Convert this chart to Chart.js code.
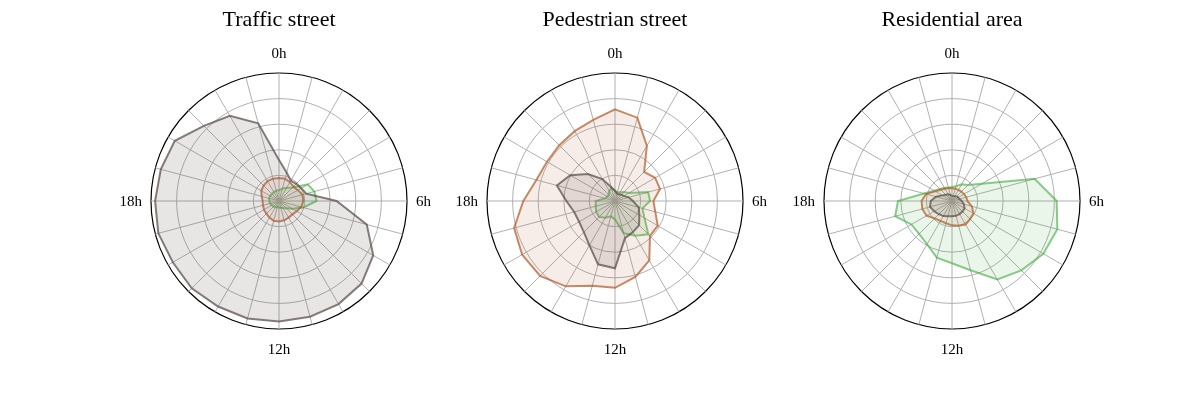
<!DOCTYPE html>
<html>
<head>
<meta charset="utf-8">
<script src="https://cdn.jsdelivr.net/npm/chart.js@4/dist/chart.umd.min.js"></script>
<style>
body{margin:0;background:#fff;}
#wrap{position:relative;width:1200px;height:400px;}
.box{position:absolute;top:0;width:340px;height:400px;}
</style>
</head>
<body>
<div id="wrap">
    <div class="box" style="left:109px"><canvas id="traffic" width="340" height="400"></canvas></div>
    <div class="box" style="left:445px"><canvas id="pedestrian" width="340" height="400"></canvas></div>
    <div class="box" style="left:782px"><canvas id="residential" width="340" height="400"></canvas></div>
</div>
<script>
var hours = ["0h","1h","2h","3h","4h","5h","6h","7h","8h","9h","10h","11h",
             "12h","13h","14h","15h","16h","17h","18h","19h","20h","21h","22h","23h"];
var shownHours = ["0h", "6h", "12h", "18h"];
var rTicks = [0, 1, 2, 3, 4, 5];
var titles = ["Traffic street", "Pedestrian street", "Residential area"];

// values per hour, 0h..23h
var trafficGray   = [1.6, 1.15, 0.92, 0.95, 1.0, 1.1, 2.25, 3.55, 4.25, 4.56, 4.65, 4.68,
                     4.71, 4.75, 4.76, 4.82, 4.79, 4.88, 4.84, 4.78, 4.70, 4.15, 3.84, 3.14];
var trafficOrange = [0.9, 0.9, 0.85, 0.8, 0.85, 0.95, 0.95, 0.9, 0.8, 0.74, 0.75, 0.78,
                     0.8, 0.8, 0.75, 0.7, 0.68, 0.65, 0.64, 0.7, 0.8, 0.85, 0.9, 0.9];
var trafficGreen  = [0.42, 0.5, 0.6, 0.75, 1.3, 1.43, 1.47, 0.98, 0.6, 0.4, 0.32, 0.28,
                     0.25, 0.25, 0.28, 0.31, 0.33, 0.36, 0.38, 0.4, 0.4, 0.39, 0.4, 0.42];

var pedestrianGray   = [0.4, 0.3, 0.3, 0.35, 0.4, 0.55, 0.7, 0.96, 1.1, 1.33, 1.4, 1.5,
                        2.63, 2.56, 2.0, 1.72, 1.62, 1.65, 1.9, 2.35, 2.02, 1.49, 0.99, 0.56];
var pedestrianOrange = [3.58, 3.37, 2.49, 1.61, 1.81, 1.82, 1.5, 1.63, 1.93, 1.93, 2.68, 3.07,
                        3.39, 3.43, 3.85, 4.14, 4.19, 4.08, 3.58, 3.18, 3.07, 3.08, 3.15, 3.28];
var pedestrianGreen  = [0.4, 0.35, 0.4, 0.5, 0.63, 1.34, 1.37, 1.11, 1.33, 1.84, 1.57, 1.3,
                        0.72, 0.62, 0.75, 0.88, 0.85, 0.78, 0.75, 0.4, 0.35, 0.35, 0.45, 0.53];

var residentialGray   = [0.2, 0.2, 0.22, 0.25, 0.28, 0.3, 0.38, 0.48, 0.57, 0.58, 0.59, 0.6,
                         0.6, 0.62, 0.68, 0.73, 0.8, 0.89, 0.83, 0.65, 0.44, 0.35, 0.3, 0.25];
var residentialOrange = [0.5, 0.5, 0.5, 0.52, 0.54, 0.58, 0.6, 0.8, 0.97, 1.0, 1.06, 1.0,
                         0.95, 0.9, 0.9, 0.96, 1.15, 1.2, 1.19, 1.05, 0.75, 0.62, 0.55, 0.52];
var residentialGreen  = [0.55, 0.6, 0.75, 0.88, 1.35, 3.34, 4.09, 4.26, 4.12, 3.83, 3.54, 2.8,
                         2.43, 2.29, 1.95, 1.82, 1.83, 2.3, 2.11, 1.13, 0.81, 0.67, 0.6, 0.55];

var hourText = {
    id: "hourText",
    afterDraw: function(chart, args, opts){
        var s = chart.scales.r;
        var ctx = chart.ctx;
        ctx.save();
        ctx.fillStyle = "#000";
        ctx.textAlign = "center";
        ctx.textBaseline = "alphabetic";
        ctx.font = '22px "Liberation Serif", "DejaVu Serif", serif';
        ctx.fillText(opts.title, s.xCenter, 26);
        ctx.font = '15px "Liberation Serif", "DejaVu Serif", serif';
        for(var i = 0; i < hours.length; i++){
            if(shownHours.indexOf(hours[i]) < 0) continue;
            var p = s.getPointPosition(i, s.drawingArea + 9);
            var c = Math.cos(p.angle), sn = Math.sin(p.angle);
            if(Math.abs(c) > 0.5){
                ctx.textAlign = c > 0 ? "left" : "right";
                ctx.fillText(hours[i], p.x, p.y + 5);
            }
            else{
                ctx.textAlign = "center";
                ctx.fillText(hours[i], p.x, sn < 0 ? p.y - 6 : p.y + 16);
            }
        }
        ctx.restore();
    }
};

function series(label, values, line, fill){
    return {
        label: label,
        data: values,
        borderColor: line,
        backgroundColor: fill,
        borderWidth: 2,
        fill: true,
        pointRadius: 0,
        tension: 0
    };
}

function makeradar(id, title, gray, orange, green){
    var ctx = document.getElementById(id).getContext("2d");
    return new Chart(ctx, {
        type: "radar",
        data: {
            labels: hours,
            datasets: [
                series("gray", gray, "rgba(90, 75, 70, 0.72)", "rgba(100, 85, 80, 0.15)"),
                series("orange", orange, "rgba(175, 90, 40, 0.7)", "rgba(180, 95, 50, 0.11)"),
                series("green", green, "rgba(60, 170, 60, 0.6)", "rgba(60, 170, 60, 0.1)")
            ]
        },
        options: {
            responsive: false,
            animation: false,
            layout: {padding: {left: 42, right: 42, top: 73, bottom: 70}},
            plugins: {
                legend: {display: false},
                tooltip: {enabled: false},
                hourText: {title: title}
            },
            scales: {
                r: {
                    min: 0,
                    max: rTicks[rTicks.length - 1],
                    afterBuildTicks: function(scale){
                        scale.ticks = rTicks.map(function(v){ return {value: v}; });
                    },
                    ticks: {display: false},
                    grid: {
                        circular: true,
                        color: function(c){ return c.index === rTicks.length - 1 ? "#000" : "#b0b0b0"; },
                        lineWidth: function(c){ return c.index === rTicks.length - 1 ? 1.2 : 1; }
                    },
                    angleLines: {color: "#b0b0b0", lineWidth: 1},
                    pointLabels: {display: false}
                }
            }
        },
        plugins: [hourText]
    });
}

makeradar("traffic", titles[0], trafficGray, trafficOrange, trafficGreen);
makeradar("pedestrian", titles[1], pedestrianGray, pedestrianOrange, pedestrianGreen);
makeradar("residential", titles[2], residentialGray, residentialOrange, residentialGreen);
</script>
</body>
</html>
